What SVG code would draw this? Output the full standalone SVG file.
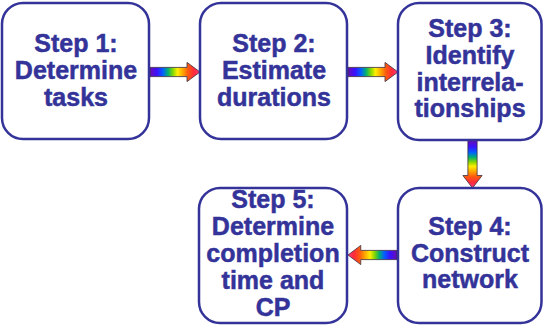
<svg xmlns="http://www.w3.org/2000/svg" width="543" height="325" viewBox="0 0 543 325">
  <defs>
    <!-- rainbow fill running from tail (purple) to head (red/pink) -->
    <linearGradient id="rainbow" x1="0" y1="0" x2="1" y2="0">
      <stop offset="0" stop-color="#6a0dad"/>
      <stop offset="0.14" stop-color="#3a10ff"/>
      <stop offset="0.26" stop-color="#0060ff"/>
      <stop offset="0.36" stop-color="#00b070"/>
      <stop offset="0.46" stop-color="#88d800"/>
      <stop offset="0.55" stop-color="#ffee00"/>
      <stop offset="0.65" stop-color="#ffaa00"/>
      <stop offset="0.76" stop-color="#ff5a10"/>
      <stop offset="0.88" stop-color="#ff2a3a"/>
      <stop offset="1" stop-color="#ff3a7a"/>
    </linearGradient>
    <!-- block arrow drawn pointing right, length 50 -->
    <path id="arrow" d="M0,-4.6 H37 V-9.6 L50,0 L37,9.6 V4.6 H0 Z"/>
  </defs>
  <style>
    .box { fill: #ffffff; stroke: #333399; stroke-width: 2.5; }
    .lbl { font-family: "Liberation Sans", Arial, sans-serif; font-weight: bold; font-size: 25px; fill: #333399; stroke: #333399; stroke-width: 0.5; text-anchor: middle; }
    .arr { fill: url(#rainbow); stroke: #3a2a3a; stroke-width: 0.8; stroke-linejoin: miter; }
  </style>

  <rect width="543" height="325" fill="#ffffff"/>

  <g id="connectors">
    <use href="#arrow" class="arr" transform="translate(150,72)"/>
    <use href="#arrow" class="arr" transform="translate(348,72)"/>
    <use href="#arrow" class="arr" transform="translate(472.5,140) rotate(90) scale(0.96,1)"/>
    <use href="#arrow" class="arr" transform="translate(397,255) rotate(180) scale(0.98,1)"/>
  </g>

  <g id="step1">
    <rect class="box" x="2" y="3" width="147" height="136" rx="21" ry="21"/>
    <text class="lbl" x="76" y="52">Step 1:</text>
    <text class="lbl" x="76" y="79">Determine</text>
    <text class="lbl" x="76" y="106">tasks</text>
  </g>

  <g id="step2">
    <rect class="box" x="200" y="3" width="147" height="136" rx="21" ry="21"/>
    <text class="lbl" x="274" y="52">Step 2:</text>
    <text class="lbl" x="274" y="79">Estimate</text>
    <text class="lbl" x="274" y="106">durations</text>
  </g>

  <g id="step3">
    <rect class="box" x="398" y="3" width="143.5" height="137" rx="21" ry="21"/>
    <text class="lbl" x="470" y="37">Step 3:</text>
    <text class="lbl" x="470" y="64">Identify</text>
    <text class="lbl" x="470" y="91">interrela-</text>
    <text class="lbl" x="470" y="117">tionships</text>
  </g>

  <g id="step4">
    <rect class="box" x="398" y="188" width="143.5" height="135" rx="21" ry="21"/>
    <text class="lbl" x="470" y="235">Step 4:</text>
    <text class="lbl" x="470" y="262">Construct</text>
    <text class="lbl" x="470" y="288">network</text>
  </g>

  <g id="step5">
    <rect class="box" x="199" y="188" width="148" height="135" rx="21" ry="21"/>
    <text class="lbl" x="273" y="208">Step 5:</text>
    <text class="lbl" x="273" y="235">Determine</text>
    <text class="lbl" x="273" y="262">completion</text>
    <text class="lbl" x="273" y="289">time and</text>
    <text class="lbl" x="273" y="316">CP</text>
  </g>
</svg>
